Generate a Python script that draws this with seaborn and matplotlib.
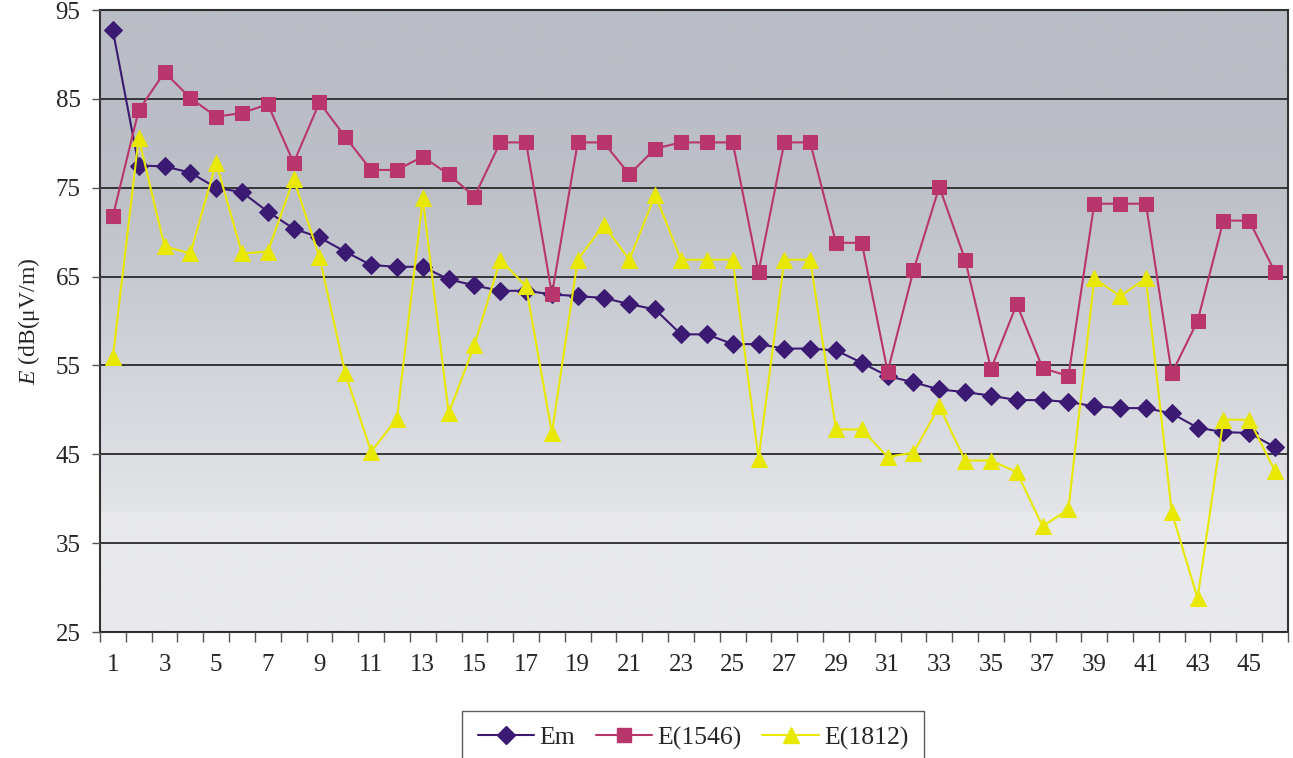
import numpy as np
import pandas as pd
import matplotlib
matplotlib.use("Agg")
import matplotlib.pyplot as plt
from matplotlib.lines import Line2D
import seaborn as sns

# Data
points = list(range(1, 47))
em = [92.7, 77.5, 77.4, 76.7, 75.0, 74.5, 72.3, 70.4, 69.4, 67.8,
      66.3, 66.1, 66.1, 64.7, 64.0, 63.4, 63.4, 63.0, 62.8, 62.6,
      61.9, 61.3, 58.5, 58.5, 57.4, 57.4, 56.9, 56.9, 56.7, 55.3,
      53.8, 53.1, 52.3, 52.0, 51.6, 51.1, 51.1, 50.9, 50.4, 50.2,
      50.2, 49.6, 48.0, 47.5, 47.4, 45.8]
e1546 = [71.8, 83.7, 88.0, 85.1, 83.0, 83.4, 84.4, 77.8, 84.6, 80.7,
         77.0, 77.0, 78.5, 76.5, 74.0, 80.1, 80.1, 63.0, 80.1, 80.1,
         76.5, 79.4, 80.1, 80.1, 80.1, 65.5, 80.1, 80.1, 68.8, 68.8,
         54.3, 65.7, 75.1, 66.9, 54.6, 61.9, 54.7, 53.8, 73.2, 73.2,
         73.2, 54.1, 60.0, 71.3, 71.3, 65.5]
e1812 = [55.9, 80.6, 68.4, 67.6, 77.8, 67.6, 67.8, 76.0, 67.2, 54.1,
         45.3, 49.0, 73.8, 49.6, 57.3, 66.9, 63.9, 47.4, 66.9, 70.8,
         66.9, 74.2, 66.9, 66.9, 66.9, 44.5, 66.9, 66.9, 47.8, 47.8,
         44.7, 45.2, 50.4, 44.3, 44.3, 43.0, 36.9, 38.8, 64.8, 62.8,
         64.8, 38.5, 28.8, 48.9, 48.9, 43.1]
series_names = ["Em", "E(1546)", "E(1812)"]
y_ticks = [25, 35, 45, 55, 65, 75, 85, 95]

df = pd.DataFrame({"n": points, "Em": em, "E(1546)": e1546, "E(1812)": e1812})

sns.set_style("white")
plt.rcParams["font.family"] = ["Liberation Serif", "DejaVu Serif"]
plt.rcParams["mathtext.fontset"] = "custom"
plt.rcParams["mathtext.it"] = "Liberation Serif:italic"
plt.rcParams["mathtext.rm"] = "Liberation Serif"

fig = plt.figure(figsize=(12.93, 7.58), dpi=100)
ax = fig.add_axes([0.0773, 0.1662, 0.9188, 0.8206])

# gradient background
grad_vals = np.array([[232, 233, 237], [232, 233, 237], [226, 228, 232],
                      [218, 220, 225], [208, 211, 217], [197, 200, 207],
                      [189, 192, 199], [186, 189, 197], [186, 189, 197]]) / 255.0
grad_pos = np.array([25, 38.4, 38.5, 47, 56, 66, 75, 85, 95])
yy = np.linspace(25, 95, 400)
img = np.stack([np.interp(yy, grad_pos, grad_vals[:, c]) for c in range(3)], axis=-1)
img = img[:, None, :]
ax.imshow(img, extent=[0.5, 46.5, 25, 95], origin="lower", aspect="auto", zorder=0)

styles = {
    "Em": dict(color="#3b1a73", marker="D", ms=9),
    "E(1546)": dict(color="#b8366b", marker="s", ms=10),
    "E(1812)": dict(color="#e8e800", marker="^", ms=11),
}
for name in series_names:
    st = styles[name]
    sns.lineplot(data=df, x="n", y=name, ax=ax, color=st["color"], marker=st["marker"],
                 markersize=st["ms"], markeredgecolor=st["color"], linewidth=1.5, zorder=3)

ax.set_xlim(0.5, 46.5)
ax.set_ylim(25, 95)
ax.set_yticks(y_ticks)
ax.set_yticklabels([str(v) for v in y_ticks], fontsize=18)
ax.yaxis.grid(True, color="#2a2a2a", linewidth=1.3, zorder=1)
ax.set_axisbelow(False)
for line in ax.get_ygridlines():
    line.set_zorder(1)

ax.set_xticks(points[::2])
ax.set_xticklabels([str(p) for p in points[::2]], fontsize=18)
ax.set_xticks(np.arange(0.5, 47, 1), minor=True)
ax.tick_params(axis="x", which="major", length=0, pad=16)
ax.tick_params(axis="x", which="minor", length=7, width=1, color="#555555", direction="out")
ax.tick_params(axis="y", length=6, width=1, color="#555555", direction="out", pad=8)
ax.tick_params(bottom=True, left=True, which="both")

for s in ax.spines.values():
    s.set_color("#333333")
    s.set_linewidth(1.5)

ax.set_xlabel("")
ax.set_ylabel(r"$\it{E}$ (dB(μV/m)", fontsize=17, labelpad=10)

handles = [Line2D([0], [0], color=styles[n]["color"], marker=styles[n]["marker"],
                  markersize=styles[n]["ms"], linewidth=1.5) for n in series_names]
fig.legend(handles, series_names, loc="upper center", bbox_to_anchor=(0.536, 0.062),
           ncol=3, fontsize=18.5, frameon=True, fancybox=False, edgecolor="#333333",
           handlelength=2.2, columnspacing=0.8, handletextpad=0.2, borderpad=0.6,
           borderaxespad=0)

fig.savefig("out.png", dpi=100)
